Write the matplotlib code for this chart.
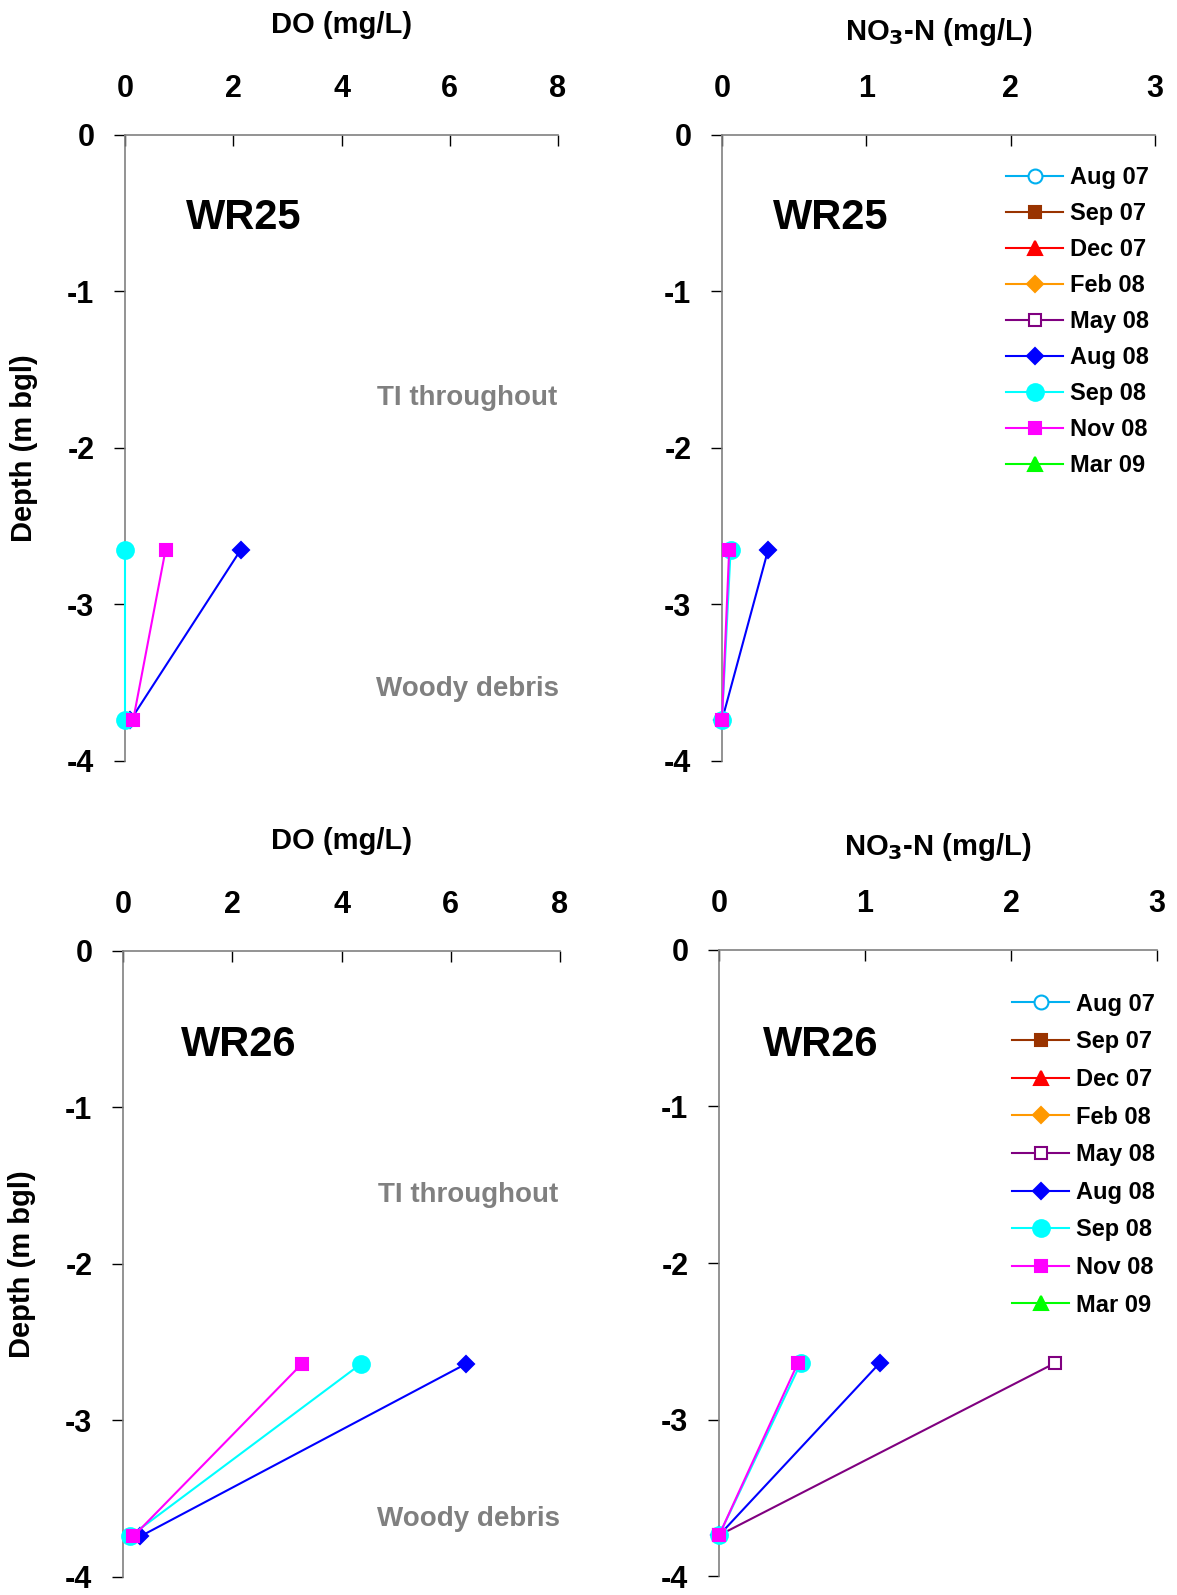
import numpy as np
import matplotlib.pyplot as plt

plt.rcParams['font.family'] = ['Liberation Sans', 'DejaVu Sans']
plt.rcParams['font.weight'] = 'bold'
plt.rcParams['axes.unicode_minus'] = False

# sampling dates (legend order)
months = ["Aug 07", "Sep 07", "Dec 07", "Feb 08", "May 08", "Aug 08", "Sep 08", "Nov 08", "Mar 09"]
colors = ["#00B0F0", "#993300", "#FF0000", "#FF9900", "#800080", "#0000FF", "#00FFFF", "#FF00FF", "#00FF00"]
markers = ["o", "s", "^", "D", "s", "D", "o", "s", "^"]
msizes = [10, 8, 10, 8, 8, 8, 12, 8, 10]
filled = [False, True, True, True, False, True, True, True, True]

nan = np.nan
depth25 = [-2.65, -3.74]
depth26 = [-2.64, -3.74]

# DO (mg/L), per month: [shallow, deep]
do25 = {"Aug 08": [2.14, 0.10], "Sep 08": [0.0, 0.0], "Nov 08": [0.75, 0.15]}
no3_25 = {"Aug 08": [0.32, 0.0], "Sep 08": [0.06, 0.0], "Nov 08": [0.05, 0.0]}
do26 = {"Aug 08": [6.27, 0.32], "Sep 08": [4.35, 0.13], "Nov 08": [3.27, 0.19]}
no3_26 = {"May 08": [2.30, 0.0], "Aug 08": [1.10, 0.0], "Sep 08": [0.56, 0.0], "Nov 08": [0.54, 0.0]}

fig = plt.figure(figsize=(11.77, 15.95), dpi=100)

# rect, data, depth, variable, xmax, well label pos, note pos, legend anchor + spacing
panels = [
    ([0.1062, 0.5229, 0.3679, 0.3925], do25, depth25, "DO", 8, "WR25", (0.275, 0.867), (0.579, 0.115), None),
    ([0.6134, 0.5229, 0.3679, 0.3925], no3_25, depth25, "NO3", 3, "WR25", (0.252, 0.867), None, (0.635, 0.965, 0.55)),
    ([0.1045, 0.0113, 0.3713, 0.3925], do26, depth26, "DO", 8, "WR26", (0.265, 0.849), (0.61, 0.093), None),
    ([0.6109, 0.0119, 0.3721, 0.3925], no3_26, depth26, "NO3", 3, "WR26", (0.233, 0.849), None, (0.648, 0.947, 0.62)),
]

for rect, data, depth, var, xmax, well, wpos, npos, lpos in panels:
    ax = fig.add_axes(rect)
    for m, c, mk, ms, f in zip(months, colors, markers, msizes, filled):
        vals = data.get(m, [nan, nan])
        ax.plot(vals, depth, color=c, marker=mk, markersize=ms, lw=1.5,
                markerfacecolor=c if f else "white", markeredgecolor=c,
                markeredgewidth=1.5, label=m, clip_on=False, zorder=3)
    ax.set_xlim(0, xmax)
    ax.set_ylim(-4, 0)
    ax.set_xticks(range(0, xmax + 1, 2 if xmax == 8 else 1))
    ax.set_yticks([0, -1, -2, -3, -4])
    ax.xaxis.tick_top()
    ax.xaxis.set_label_position("top")
    for s in ["right", "bottom"]:
        ax.spines[s].set_visible(False)
    for s in ["left", "top"]:
        ax.spines[s].set_color("#808080")
        ax.spines[s].set_linewidth(1.2)
    ax.tick_params(axis="x", direction="in", length=8, width=1, labelsize=22, pad=22)
    ax.tick_params(axis="y", direction="out", length=8, width=1, labelsize=22, pad=14)
    if var == "DO":
        ax.set_xlabel("DO (mg/L)", fontsize=21, fontweight="bold", labelpad=30)
        ax.set_ylabel("Depth (m bgl)", fontsize=21, fontweight="bold")
        ax.yaxis.set_label_coords(-0.2, 0.5)
    else:
        ax.set_xlabel("NO$_\\mathbf{3}$-N (mg/L)", fontsize=21, fontweight="bold", labelpad=25)
    ax.text(wpos[0], wpos[1], well, transform=ax.transAxes,
            fontsize=30, fontweight="bold", ha="center", va="center")
    if npos:
        ax.text(0.79, npos[0], "TI throughout", transform=ax.transAxes, color="#808080",
                fontsize=20, fontweight="bold", ha="center", va="center")
        ax.text(0.79, npos[1], "Woody debris", transform=ax.transAxes, color="#808080",
                fontsize=20, fontweight="bold", ha="center", va="center")
    if lpos:
        ax.legend(loc="upper left", bbox_to_anchor=lpos[:2], frameon=False,
                  fontsize=17, handlelength=2.4, labelspacing=lpos[2], handletextpad=0.3,
                  borderaxespad=0)

fig.savefig("out.png", dpi=100)
